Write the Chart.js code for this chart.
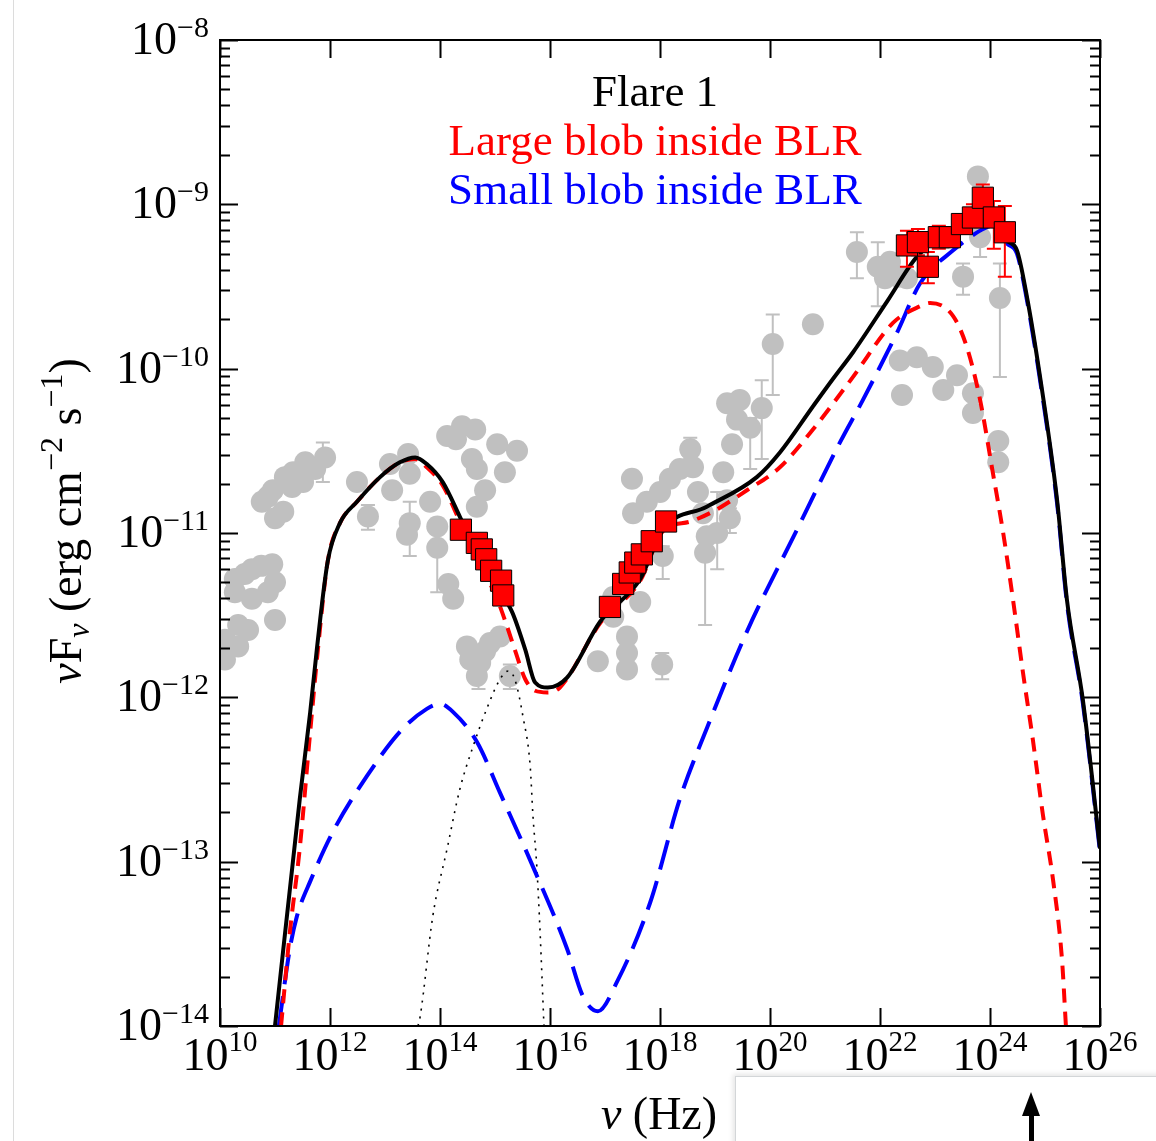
<!DOCTYPE html>
<html lang="en">
<head>
  <meta charset="UTF-8" />
  <title>Flare 1 SED</title>
  <script src="https://cdn.jsdelivr.net/npm/chart.js"></script>
  <style>
    html, body { margin: 0; padding: 0; background: #fff; }
    .wrap { position: relative; width: 1156px; height: 1141px; overflow: hidden; }
    #sed { position: absolute; left: 0; top: 0; }
    /* bits of the screenshot frame around the figure */
    .edge { position: absolute; left: 13px; top: 0; width: 1px; height: 1141px; background: #dcdcdc; }
    .popup {
      position: absolute; left: 735px; top: 1076px; width: 440px; height: 90px;
      background: #fff; border: 1px solid #d3d6d8; box-shadow: -2px -2px 5px rgba(0,0,0,0.10);
    }
    .shaft { position: absolute; left: 293px; top: 34px; width: 5px; height: 60px; background: #000; }
    .head {
      position: absolute; left: 286px; top: 15px; width: 0; height: 0;
      border-left: 9px solid transparent; border-right: 9px solid transparent; border-bottom: 24px solid #000;
    }
  </style>
</head>
<body>
<div class="wrap">
  <canvas id="sed" width="1156" height="1141"></canvas>
  <div class="edge"></div>
  <div class="popup"><div class="head"></div><div class="shaft"></div></div>
</div>
<script>
  // all values are log10(nu / Hz) and log10(nuFnu / erg cm^-2 s^-1)

  // archival data (grey)
  const grayLogNu = [
    10.76, 10.96, 11.15, 11.00, 11.33, 11.55, 11.73, 11.91, 11.31, 11.51, 11.18, 10.87,
    10.27, 10.58, 10.95, 11.00, 10.87, 10.58, 10.27, 11.00, 10.33, 10.51, 10.33, 10.09, 10.09, 10.45, 10.75,
    12.49, 12.69, 13.13, 13.09, 13.42, 13.45, 13.45, 13.40, 13.82, 13.95, 13.95, 14.15, 14.24,
    14.13, 14.40, 14.64, 15.04, 15.40, 14.58, 14.67, 15.18, 14.82, 14.67, 14.29,
    14.49, 14.73, 14.91, 15.09, 14.67, 15.27, 14.55, 14.82,
    17.49, 17.51, 17.76, 18.00, 18.18, 18.36, 18.55, 18.60, 18.05, 17.64, 17.15, 17.15, 17.40, 17.40, 17.40,
    16.87, 18.04, 18.69, 18.78, 18.85, 18.82, 19.15, 19.22, 19.27, 19.04, 19.31, 19.22, 19.45, 19.40, 19.64,
    19.85, 20.05, 20.78,
    21.58, 21.96, 22.18, 22.33, 22.49, 22.09, 23.51, 23.82, 23.78, 24.18,
    22.36, 22.67, 22.96, 22.40, 23.15, 23.40, 23.69, 23.69, 24.15, 24.15
  ];
  const grayLogFlux = [
    -10.81, -10.74, -10.87, -10.91, -10.63, -10.57, -10.61, -10.54, -10.72, -10.69, -10.66, -10.78,
    -11.28, -11.22, -11.19, -11.30, -11.36, -11.40, -11.36, -11.53, -11.56, -11.59, -11.69, -11.65, -11.77, -11.25, -11.20,
    -10.69, -10.90, -10.74, -10.58, -10.52, -10.64, -10.94, -11.01, -10.81, -10.96, -11.09, -11.31, -11.40,
    -10.41, -10.35, -10.37, -10.46, -10.50, -10.55, -10.61, -10.63, -10.74, -10.84, -10.43,
    -11.69, -11.79, -11.67, -11.63, -11.87, -11.87, -11.77, -11.72,
    -10.67, -10.88, -10.81, -10.75, -10.67, -10.61, -10.49, -10.60, -11.14, -11.42, -11.39, -11.51, -11.63, -11.73, -11.83,
    -11.78, -11.80, -10.75, -10.88, -11.02, -11.12, -10.63, -10.80, -10.91, -11.00, -10.46, -10.21, -10.19, -10.31, -10.36,
    -10.24, -9.85, -9.73,
    -9.29, -9.38, -9.35, -9.44, -9.45, -9.45, -9.44, -9.20, -8.83, -9.57,
    -9.95, -9.93, -9.99, -10.16, -10.13, -10.04, -10.15, -10.27, -10.44, -10.57
  ];
  // archival error bars: position, upper end, lower end
  const grayErrLogNu = [11.87, 12.69, 13.45, 13.95, 14.70, 15.27, 18.55, 18.05, 18.04, 18.82, 19.04, 19.27, 19.64, 19.85, 20.05, 21.58, 21.96, 23.51, 23.82, 24.18];
  const grayErrHigh  = [-10.45, -10.83, -10.81, -11.00, -11.80, -11.80, -10.42, -11.08, -11.73, -11.05, -10.75, -10.85, -10.30, -10.07, -9.67, -9.17, -9.23, -9.36, -9.13, -9.36];
  const grayErrLow   = [-10.69, -10.98, -11.14, -11.36, -11.95, -11.95, -10.55, -11.28, -11.89, -11.56, -11.22, -11.00, -10.61, -10.55, -10.16, -9.45, -9.62, -9.55, -9.32, -10.05];

  // Flare 1 data (red squares)
  const flareLogNu = [
    14.38, 14.67, 14.76, 14.84, 14.93, 15.11, 15.15,
    17.09, 17.33, 17.45, 17.55, 17.67, 17.85, 18.11,
    22.49, 22.69, 22.87, 23.07, 23.27, 23.49, 23.69, 23.87, 24.07, 24.27
  ];
  const flareLogFlux = [
    -10.98, -11.06, -11.10, -11.16, -11.23, -11.29, -11.38,
    -11.45, -11.31, -11.24, -11.18, -11.13, -11.05, -10.93,
    -9.25, -9.23, -9.38, -9.20, -9.20, -9.12, -9.08, -8.96, -9.08, -9.17
  ];
  // gamma-ray error bars of the flare points
  const flareErrLogNu = [22.49, 22.69, 22.87, 23.07, 23.27, 23.49, 23.69, 23.87, 24.07, 24.27];
  const flareErrHigh  = [-9.16, -9.15, -9.29, -9.13, -9.14, -9.06, -9.00, -8.88, -8.98, -9.01];
  const flareErrLow   = [-9.38, -9.31, -9.48, -9.27, -9.26, -9.18, -9.14, -9.04, -9.27, -9.44];

  // model curves
  const totalLogNu = [11.00, 11.45, 11.64, 11.76, 11.96, 12.18, 12.49, 12.91, 13.27, 13.55, 13.76, 14.05, 14.36, 14.67,
    15.00, 15.31, 15.55, 15.73, 15.96, 16.31, 16.91, 17.64, 18.05, 18.85, 19.76, 20.18, 20.78, 21.15, 21.51, 22.13,
    22.67, 23.45, 24.00, 24.31, 24.49, 24.67, 24.91, 25.22, 25.40, 25.69, 26.00];
  const totalLogFlux = [-14.00, -12.62, -12.09, -11.71, -11.17, -10.94, -10.81, -10.66, -10.57, -10.54, -10.58, -10.69, -10.90, -11.12,
    -11.31, -11.48, -11.71, -11.91, -11.94, -11.88, -11.54, -11.28, -10.98, -10.84, -10.66, -10.51, -10.23, -10.06, -9.90, -9.59,
    -9.32, -9.12, -9.05, -9.22, -9.28, -9.56, -10.05, -10.80, -11.41, -12.02, -12.92];

  const largeLogNu = [11.11, 11.27, 11.45, 11.64, 11.78, 11.96, 12.18, 12.49, 12.91, 13.27, 13.55, 13.76, 14.05, 14.36, 14.67,
    15.00, 15.18, 15.36, 15.55, 15.73, 15.95, 16.18, 16.91, 17.64, 18.05, 18.55, 18.96, 19.58, 20.18, 20.78, 21.51,
    22.24, 22.73, 22.91, 23.33, 23.58, 23.82, 24.05, 24.24, 24.42, 24.60, 24.78, 24.96, 25.15, 25.31, 25.38];
  const largeLogFlux = [-14.00, -13.43, -12.92, -12.21, -11.71, -11.17, -10.94, -10.81, -10.66, -10.57, -10.55, -10.60, -10.71, -10.93, -11.16,
    -11.37, -11.53, -11.71, -11.89, -11.96, -11.97, -11.94, -11.55, -11.29, -10.99, -10.93, -10.87, -10.74, -10.60, -10.37, -10.05,
    -9.72, -9.62, -9.60, -9.68, -9.87, -10.19, -10.63, -11.00, -11.41, -11.85, -12.26, -12.71, -13.12, -13.60, -14.00];

  const smallLogNu = [11.07, 11.27, 11.40, 11.64, 12.05, 12.67, 13.27, 13.76, 14.00, 14.24, 14.67, 15.09, 15.69, 16.31,
    16.60, 16.87, 17.22, 17.82, 18.36, 18.85, 19.58, 20.49, 21.27, 21.69, 22.31, 22.73, 23.33, 23.82, 24.04,
    24.31, 24.49, 24.67, 24.91, 25.22, 25.40, 25.69, 26.00];
  const smallLogFlux = [-14.00, -13.53, -13.33, -13.12, -12.82, -12.48, -12.21, -12.07, -12.04, -12.09, -12.27, -12.58, -13.03, -13.53,
    -13.82, -13.91, -13.73, -13.25, -12.62, -12.19, -11.60, -10.98, -10.45, -10.19, -9.78, -9.48, -9.28, -9.16, -9.13,
    -9.24, -9.30, -9.58, -10.07, -10.82, -11.43, -12.04, -12.94];

  const diskLogNu = [13.60, 13.64, 13.87, 14.13, 14.36, 14.60, 14.85, 15.09, 15.24, 15.36, 15.51, 15.64, 15.69, 15.76, 15.82, 15.89];
  const diskLogFlux = [-14.00, -13.94, -13.33, -12.92, -12.56, -12.30, -12.07, -11.89, -11.84, -11.89, -12.12, -12.42, -12.72, -13.03, -13.43, -14.00];

  // axis tick labels (exponents)
  const xTickExp = [10, 12, 14, 16, 18, 20, 22, 24, 26];
  const yTickExp = [-14, -13, -12, -11, -10, -9, -8];

  const legendLines = [
    { text: 'Flare 1', color: '#000000' },
    { text: 'Large blob inside BLR', color: '#ff0000' },
    { text: 'Small blob inside BLR', color: '#0000ff' }
  ];

  const SERIF = '"Liberation Serif", "Times New Roman", serif';

  function pts(lx, ly) {
    return lx.map((v, i) => ({ x: Math.pow(10, v), y: Math.pow(10, ly[i]) }));
  }

  function font(size, italic) {
    return (italic ? 'italic ' : '') + size + 'px ' + SERIF;
  }

  function richWidth(ctx, parts) {
    let w = 0;
    parts.forEach(p => { ctx.font = font(p.size, p.italic); w += ctx.measureText(p.t).width; });
    return w;
  }

  function drawRich(ctx, parts, x, y) {
    ctx.textAlign = 'left';
    ctx.textBaseline = 'alphabetic';
    parts.forEach(p => {
      ctx.font = font(p.size, p.italic);
      ctx.fillText(p.t, x, y + (p.dy || 0));
      x += ctx.measureText(p.t).width;
    });
  }

  function errBars(chart, lx, hi, lo, color, width, cap) {
    const ctx = chart.ctx, xs = chart.scales.x, ys = chart.scales.y;
    ctx.save();
    ctx.strokeStyle = color;
    ctx.lineWidth = width;
    lx.forEach((v, i) => {
      const px = xs.getPixelForValue(Math.pow(10, v));
      const y1 = ys.getPixelForValue(Math.pow(10, hi[i]));
      const y2 = ys.getPixelForValue(Math.pow(10, lo[i]));
      ctx.beginPath();
      ctx.moveTo(px, y1); ctx.lineTo(px, y2);
      ctx.moveTo(px - cap, y1); ctx.lineTo(px + cap, y1);
      ctx.moveTo(px - cap, y2); ctx.lineTo(px + cap, y2);
      ctx.stroke();
    });
    ctx.restore();
  }

  const sedAxes = {
    id: 'sedAxes',
    beforeDatasetDraw(chart, args) {
      const lbl = chart.data.datasets[args.index].label;
      if (lbl === 'archival') errBars(chart, grayErrLogNu, grayErrHigh, grayErrLow, '#c0c0c0', 2, 7);
      if (lbl === 'Flare 1') errBars(chart, flareErrLogNu, flareErrHigh, flareErrLow, '#ff0000', 2, 7);
    },
    afterDraw(chart) {
      const ctx = chart.ctx, a = chart.chartArea, xs = chart.scales.x, ys = chart.scales.y;
      ctx.save();
      ctx.fillStyle = '#000';
      ctx.strokeStyle = '#000';

      // frame
      ctx.lineWidth = 2;
      ctx.strokeRect(a.left, a.top, a.right - a.left, a.bottom - a.top);

      // y ticks, both sides, major at decades and minor in between
      yTickExp.forEach(e => {
        for (let m = 1; m <= 9; m++) {
          if (e === -8 && m > 1) break;
          const py = Math.round(ys.getPixelForValue(m * Math.pow(10, e))) + 0.5;
          const len = m === 1 ? 18 : 10;
          ctx.beginPath();
          ctx.moveTo(a.left, py); ctx.lineTo(a.left + len, py);
          ctx.moveTo(a.right, py); ctx.lineTo(a.right - len, py);
          ctx.stroke();
        }
      });
      // x ticks at every second decade, bottom and top
      xTickExp.forEach(e => {
        const px = Math.round(xs.getPixelForValue(Math.pow(10, e))) + 0.5;
        ctx.beginPath();
        ctx.moveTo(px, a.bottom); ctx.lineTo(px, a.bottom - 18);
        ctx.moveTo(px, a.top); ctx.lineTo(px, a.top + 18);
        ctx.stroke();
      });

      // tick labels
      yTickExp.forEach(e => {
        const py = ys.getPixelForValue(Math.pow(10, e));
        const parts = [{ t: '10', size: 46 }, { t: '\u2212' + Math.abs(e), size: 30, dy: -17 }];
        drawRich(ctx, parts, 209 - richWidth(ctx, parts), py + 14);
      });
      xTickExp.forEach(e => {
        const px = xs.getPixelForValue(Math.pow(10, e));
        const parts = [{ t: '10', size: 46 }, { t: String(e), size: 29, dy: -19 }];
        drawRich(ctx, parts, px - richWidth(ctx, parts) / 2, a.bottom + 44);
      });

      // axis titles
      const xt = [{ t: '\u03bd', size: 46, italic: true }, { t: ' (Hz)', size: 46 }];
      drawRich(ctx, xt, 659 - richWidth(ctx, xt) / 2, 1129);

      const yt = [
        { t: '\u03bd', size: 46, italic: true }, { t: 'F', size: 46 },
        { t: '\u03bd', size: 32, italic: true, dy: 8 },
        { t: ' (erg cm', size: 46 }, { t: '\u22122', size: 32, dy: -19 },
        { t: ' s', size: 46 }, { t: '\u22121', size: 32, dy: -19 }, { t: ')', size: 46 }
      ];
      ctx.save();
      ctx.translate(81, 521);
      ctx.rotate(-Math.PI / 2);
      drawRich(ctx, yt, -richWidth(ctx, yt) / 2, 0);
      ctx.restore();

      // legend text
      ctx.textAlign = 'center';
      ctx.font = font(45, false);
      legendLines.forEach((l, i) => {
        ctx.fillStyle = l.color;
        ctx.fillText(l.text, 655, 106 + i * 49);
      });
      ctx.restore();
    }
  };

  const ctx = document.getElementById('sed').getContext('2d');
  const sedChart = new Chart(ctx, {
    type: 'scatter',
    data: {
      datasets: [
        {
          label: 'Flare 1', data: pts(flareLogNu, flareLogFlux), order: 0,
          pointStyle: 'rect', pointRadius: 15, backgroundColor: '#ff0000', borderColor: '#000', borderWidth: 1
        },
        {
          label: 'total', type: 'line', data: pts(totalLogNu, totalLogFlux), order: 1,
          borderColor: '#000', borderWidth: 4, pointRadius: 0, fill: false, cubicInterpolationMode: 'monotone'
        },
        {
          label: 'Large blob inside BLR', type: 'line', data: pts(largeLogNu, largeLogFlux), order: 2,
          borderColor: '#ff0000', borderWidth: 4, borderDash: [14, 9], pointRadius: 0, fill: false,
          cubicInterpolationMode: 'monotone'
        },
        {
          label: 'Small blob inside BLR', type: 'line', data: pts(smallLogNu, smallLogFlux), order: 3,
          borderColor: '#0000ff', borderWidth: 4, borderDash: [30, 12], pointRadius: 0, fill: false,
          cubicInterpolationMode: 'monotone'
        },
        {
          label: 'disk', type: 'line', data: pts(diskLogNu, diskLogFlux), order: 4,
          borderColor: '#000', borderWidth: 1.6, borderDash: [2, 6], pointRadius: 0, fill: false,
          cubicInterpolationMode: 'monotone'
        },
        {
          label: 'archival', data: pts(grayLogNu, grayLogFlux), order: 10,
          pointRadius: 11, backgroundColor: '#c0c0c0', borderWidth: 0
        }
      ]
    },
    options: {
      responsive: false,
      animation: false,
      devicePixelRatio: 1,
      layout: { padding: { left: 220, right: 56, top: 40, bottom: 115 } },
      scales: {
        x: { type: 'logarithmic', min: 1e10, max: 1e26, display: false },
        y: { type: 'logarithmic', min: 1e-14, max: 1e-8, display: false }
      },
      plugins: {
        legend: { display: false },
        tooltip: { enabled: false }
      }
    },
    plugins: [sedAxes]
  });
</script>
</body>
</html>
